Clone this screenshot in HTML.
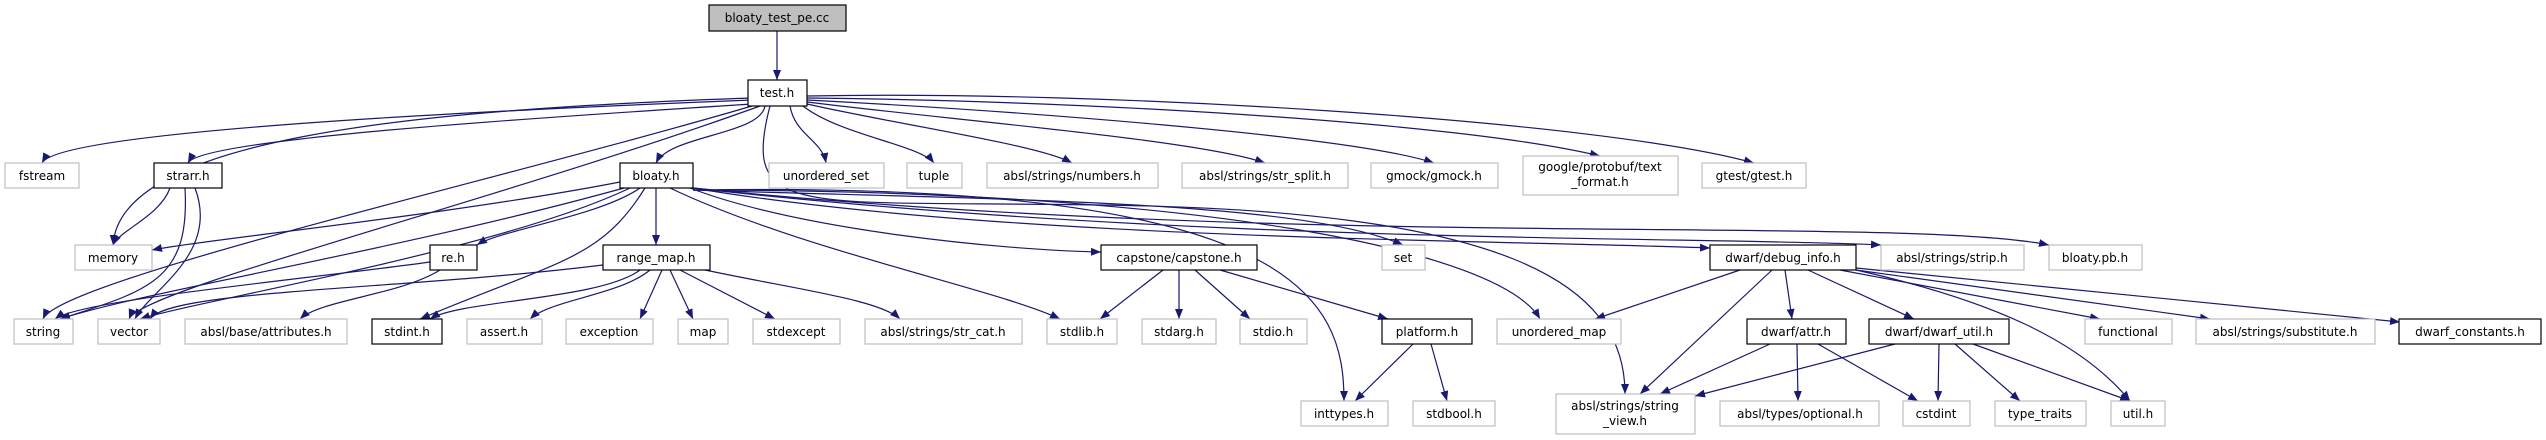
<!DOCTYPE html>
<html><head><meta charset="utf-8"><style>
html,body{margin:0;padding:0;background:#fff;}
svg{display:block;}
text{font-family:"DejaVu Sans","Liberation Sans",sans-serif;font-size:12px;fill:#000;text-anchor:middle;}
.e{fill:none;stroke:#191970;stroke-width:1.2;marker-end:url(#a);}
.g{fill:#fff;stroke:#bfbfbf;stroke-width:1.2;}
.b{fill:#fff;stroke:#000;stroke-width:1.2;}
</style></head><body>
<svg width="2546" height="440" viewBox="0 0 2546 440" xmlns="http://www.w3.org/2000/svg">
<defs><marker id="a" markerUnits="userSpaceOnUse" markerWidth="11" markerHeight="8" refX="10" refY="4" orient="auto"><path d="M0,0 L10,4 L0,8 z" fill="#191970"/></marker></defs>
<g>
<path class="e" d="M777,31 L777,80"/>
<path class="e" d="M752,100 C500,110 60,130 42,163"/>
<path class="e" d="M752,98 C400,110 120,140 113,245"/>
<path class="e" d="M752,104 C500,120 200,140 188,163"/>
<path class="e" d="M752,106 C500,180 60,280 43,319"/>
<path class="e" d="M760,106 C500,200 140,290 129,319"/>
<path class="e" d="M765,106 C760,135 670,135 656,163"/>
<path class="e" d="M790,106 C795,135 822,140 826,163"/>
<path class="e" d="M803,106 C840,135 920,145 934,163"/>
<path class="e" d="M807,104 C900,125 1040,145 1072,163"/>
<path class="e" d="M807,102 C950,120 1200,140 1265,163"/>
<path class="e" d="M807,100 C1000,110 1350,135 1434,163"/>
<path class="e" d="M807,98 C1050,100 1450,120 1600,156"/>
<path class="e" d="M807,96 C1100,90 1600,120 1754,163"/>
<path class="e" d="M770,106 C740,220 800,200 1100,205 C1500,210 1625,280 1625,394"/>
<path class="e" d="M170,188 C160,216 120,230 113,245"/>
<path class="e" d="M185,188 C190,280 150,290 60,319"/>
<path class="e" d="M195,188 C220,254 150,290 135,319"/>
<path class="e" d="M620,182 C450,215 200,240 152,250"/>
<path class="e" d="M624,188 C400,250 150,290 60,319"/>
<path class="e" d="M630,188 C500,250 200,300 140,319"/>
<path class="e" d="M640,188 C600,216 500,230 477,245"/>
<path class="e" d="M656,188 L656,245"/>
<path class="e" d="M645,188 C600,260 560,260 420,319"/>
<path class="e" d="M670,188 C800,250 1000,290 1060,319"/>
<path class="e" d="M690,188 C800,230 1000,250 1101,252"/>
<path class="e" d="M693,190 C1000,200 1300,200 1403,245"/>
<path class="e" d="M693,190 C1300,180 1344,300 1344,401"/>
<path class="e" d="M693,190 C1200,190 1500,250 1540,319"/>
<path class="e" d="M693,188 C1000,240 1500,240 1710,248"/>
<path class="e" d="M693,188 C1200,245 1700,236 1881,245"/>
<path class="e" d="M693,188 C1300,250 1900,215 2049,245"/>
<path class="e" d="M430,262 C300,280 80,300 55,319"/>
<path class="e" d="M440,270 C400,295 320,300 300,319"/>
<path class="e" d="M603,265 C400,290 170,290 150,319"/>
<path class="e" d="M640,270 C600,300 460,300 430,319"/>
<path class="e" d="M650,270 C620,295 550,300 530,319"/>
<path class="e" d="M662,270 L640,319"/>
<path class="e" d="M670,270 L693,319"/>
<path class="e" d="M680,270 L775,319"/>
<path class="e" d="M705,270 C800,290 880,300 900,319"/>
<path class="e" d="M1163,270 L1100,319"/>
<path class="e" d="M1179,270 L1179,319"/>
<path class="e" d="M1195,270 L1250,319"/>
<path class="e" d="M1220,270 L1388,319"/>
<path class="e" d="M1413,344 L1355,401"/>
<path class="e" d="M1431,344 L1447,401"/>
<path class="e" d="M1740,270 L1595,319"/>
<path class="e" d="M1772,270 L1640,394"/>
<path class="e" d="M1785,270 L1792,319"/>
<path class="e" d="M1808,270 L1914,319"/>
<path class="e" d="M1840,270 L2100,319"/>
<path class="e" d="M1856,270 L2210,319"/>
<path class="e" d="M1856,268 L2400,322"/>
<path class="e" d="M1856,270 C1990,300 2080,340 2130,401"/>
<path class="e" d="M1770,344 L1660,394"/>
<path class="e" d="M1797,344 L1798,401"/>
<path class="e" d="M1818,344 L1918,401"/>
<path class="e" d="M1895,344 L1695,396"/>
<path class="e" d="M1939,344 L1938,401"/>
<path class="e" d="M1955,344 L2020,401"/>
<path class="e" d="M1973,344 L2130,401"/>
</g>
<g>
<rect x="709" y="5" width="137" height="26" fill="#bfbfbf" stroke="#000" stroke-width="1.2"/><text x="777" y="22">bloaty_test_pe.cc</text>
<rect class="b" x="748" y="80" width="59" height="26"/><text x="777" y="97">test.h</text>
<rect class="g" x="5" y="163" width="74" height="25"/><text x="42" y="180">fstream</text>
<rect class="b" x="154" y="163" width="68" height="25"/><text x="188" y="180">strarr.h</text>
<rect class="b" x="620" y="163" width="73" height="25"/><text x="656" y="180">bloaty.h</text>
<rect class="g" x="769" y="163" width="115" height="25"/><text x="826" y="180">unordered_set</text>
<rect class="g" x="907" y="163" width="55" height="25"/><text x="934" y="180">tuple</text>
<rect class="g" x="987" y="163" width="171" height="25"/><text x="1072" y="180">absl/strings/numbers.h</text>
<rect class="g" x="1182" y="163" width="166" height="25"/><text x="1265" y="180">absl/strings/str_split.h</text>
<rect class="g" x="1371" y="163" width="127" height="25"/><text x="1434" y="180">gmock/gmock.h</text>
<rect class="g" x="1523" y="156" width="155" height="39"/><text x="1600" y="171">google/protobuf/text</text><text x="1600" y="186">_format.h</text>
<rect class="g" x="1702" y="163" width="104" height="25"/><text x="1754" y="180">gtest/gtest.h</text>
<rect class="g" x="75" y="245" width="77" height="25"/><text x="113" y="262">memory</text>
<rect class="b" x="430" y="245" width="47" height="25"/><text x="453" y="262">re.h</text>
<rect class="b" x="603" y="245" width="107" height="25"/><text x="656" y="262">range_map.h</text>
<rect class="b" x="1101" y="245" width="156" height="25"/><text x="1179" y="262">capstone/capstone.h</text>
<rect class="g" x="1382" y="245" width="43" height="25"/><text x="1403" y="262">set</text>
<rect class="b" x="1710" y="245" width="146" height="25"/><text x="1783" y="262">dwarf/debug_info.h</text>
<rect class="g" x="1881" y="245" width="143" height="25"/><text x="1952" y="262">absl/strings/strip.h</text>
<rect class="g" x="2049" y="245" width="93" height="25"/><text x="2095" y="262">bloaty.pb.h</text>
<rect class="g" x="14" y="319" width="59" height="25"/><text x="43" y="336">string</text>
<rect class="g" x="98" y="319" width="62" height="25"/><text x="129" y="336">vector</text>
<rect class="g" x="185" y="319" width="162" height="25"/><text x="266" y="336">absl/base/attributes.h</text>
<rect class="b" x="372" y="319" width="70" height="25"/><text x="407" y="336">stdint.h</text>
<rect class="g" x="467" y="319" width="75" height="25"/><text x="504" y="336">assert.h</text>
<rect class="g" x="566" y="319" width="87" height="25"/><text x="609" y="336">exception</text>
<rect class="g" x="678" y="319" width="50" height="25"/><text x="703" y="336">map</text>
<rect class="g" x="753" y="319" width="87" height="25"/><text x="796" y="336">stdexcept</text>
<rect class="g" x="865" y="319" width="157" height="25"/><text x="943" y="336">absl/strings/str_cat.h</text>
<rect class="g" x="1047" y="319" width="70" height="25"/><text x="1082" y="336">stdlib.h</text>
<rect class="g" x="1142" y="319" width="74" height="25"/><text x="1179" y="336">stdarg.h</text>
<rect class="g" x="1240" y="319" width="67" height="25"/><text x="1273" y="336">stdio.h</text>
<rect class="b" x="1382" y="319" width="90" height="25"/><text x="1427" y="336">platform.h</text>
<rect class="g" x="1497" y="319" width="124" height="25"/><text x="1559" y="336">unordered_map</text>
<rect class="b" x="1747" y="319" width="99" height="25"/><text x="1796" y="336">dwarf/attr.h</text>
<rect class="b" x="1869" y="319" width="140" height="25"/><text x="1939" y="336">dwarf/dwarf_util.h</text>
<rect class="g" x="2085" y="319" width="87" height="25"/><text x="2128" y="336">functional</text>
<rect class="g" x="2196" y="319" width="179" height="25"/><text x="2285" y="336">absl/strings/substitute.h</text>
<rect class="b" x="2399" y="319" width="142" height="25"/><text x="2470" y="336">dwarf_constants.h</text>
<rect class="g" x="1301" y="401" width="87" height="25"/><text x="1344" y="418">inttypes.h</text>
<rect class="g" x="1413" y="401" width="82" height="25"/><text x="1454" y="418">stdbool.h</text>
<rect class="g" x="1556" y="394" width="139" height="40"/><text x="1625" y="410">absl/strings/string</text><text x="1625" y="425">_view.h</text>
<rect class="g" x="1720" y="401" width="159" height="25"/><text x="1800" y="418">absl/types/optional.h</text>
<rect class="g" x="1903" y="401" width="67" height="25"/><text x="1936" y="418">cstdint</text>
<rect class="g" x="1995" y="401" width="91" height="25"/><text x="2040" y="418">type_traits</text>
<rect class="g" x="2111" y="401" width="54" height="25"/><text x="2138" y="418">util.h</text>
</g>
</svg>
</body></html>
